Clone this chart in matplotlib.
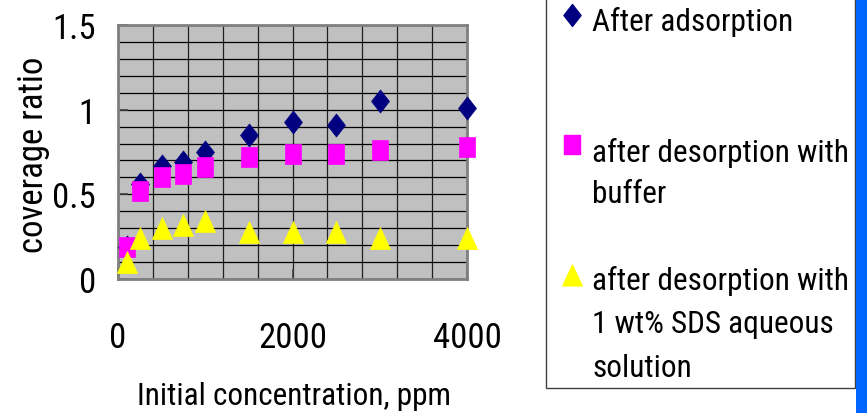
import matplotlib
matplotlib.use("Agg")
import matplotlib.pyplot as plt
from matplotlib.path import Path
from matplotlib.lines import Line2D
from matplotlib.patches import Rectangle
from matplotlib.ticker import MultipleLocator
from matplotlib import font_manager as fm

installed = {f.name for f in fm.fontManager.ttflist}
narrow = [n for n in ['Roboto Condensed', 'Archivo Narrow', 'PT Sans Narrow',
                      'Liberation Sans Narrow'] if n in installed]
plt.rcParams['font.family'] = narrow[:1] + ['Liberation Sans', 'DejaVu Sans']

# Initial concentration (ppm) and coverage ratios
conc = [100, 250, 500, 750, 1000, 1500, 2000, 2500, 3000, 4000]
after_adsorption = [0.19, 0.56, 0.67, 0.69, 0.75, 0.85, 0.93, 0.91, 1.05, 1.01]
after_buffer = [0.19, 0.52, 0.60, 0.62, 0.66, 0.72, 0.74, 0.74, 0.76, 0.78]
after_sds = [0.10, 0.24, 0.30, 0.32, 0.34, 0.28, 0.28, 0.28, 0.24, 0.24]

labels = ["After adsorption",
          "after desorption with\nbuffer",
          "after desorption with\n1 wt% SDS aqueous\nsolution"]
x_ticks = [0, 2000, 4000]
y_ticks = [0, 0.5, 1, 1.5]
y_ticklabels = ["0", "0.5", "1", "1.5"]

# Slightly tall marker shapes
diamond = Path([(0, 1), (0.78, 0), (0, -1), (-0.78, 0), (0, 1)],
               [Path.MOVETO, Path.LINETO, Path.LINETO, Path.LINETO, Path.CLOSEPOLY])
square = Path([(-0.8, -1), (0.8, -1), (0.8, 1), (-0.8, 1), (-0.8, -1)],
              [Path.MOVETO, Path.LINETO, Path.LINETO, Path.LINETO, Path.CLOSEPOLY])
triangle = Path([(0, 1), (0.92, -1), (-0.92, -1), (0, 1)],
                [Path.MOVETO, Path.LINETO, Path.LINETO, Path.CLOSEPOLY])

styles = [(diamond, 16.6, "#000080"),
          (square, 14.4, "#FF00FF"),
          (triangle, 15.8, "#FFFF00")]
series = [after_adsorption, after_buffer, after_sds]

W, H = 867, 414
fig = plt.figure(figsize=(W / 100, H / 100), dpi=100)
fig.patch.set_facecolor("white")

ax = fig.add_axes([118 / W, (H - 280) / H, 349 / W, 254 / H])
ax.set_facecolor("#C0C0C0")
ax.set_xlim(0, 4000)
ax.set_ylim(0, 1.5)

ax.xaxis.set_minor_locator(MultipleLocator(400))
ax.yaxis.set_minor_locator(MultipleLocator(0.1))
ax.set_xticks(x_ticks)
ax.set_xticklabels([str(v) for v in x_ticks])
ax.set_yticks(y_ticks)
ax.set_yticklabels(y_ticklabels)

ax.grid(which="both", axis="y", color="black", linewidth=0.9)
ax.grid(which="both", axis="x", color="#202020", linewidth=0.9)
ax.set_axisbelow(True)

ax.tick_params(which="major", direction="in", length=7, width=1.2, color="#404040",
               labelsize=25)
ax.tick_params(which="minor", length=0)
ax.tick_params(axis="y", pad=16)
ax.tick_params(axis="x", pad=30)
for sp in ax.spines.values():
    sp.set_color("#808080")
    sp.set_linewidth(2)

for vals, (mk, ms, col) in zip(series, styles):
    ax.plot(conc, vals, linestyle="none", marker=mk, markersize=ms,
            markerfacecolor=col, markeredgecolor=col, markeredgewidth=0.5,
            clip_on=False, zorder=3)

fig.text(34 / W, 1 - 155 / H, "coverage ratio",
         rotation=90, ha="center", va="center", fontsize=25)
fig.text(294 / W, 1 - 405 / H, "Initial concentration, ppm", ha="center",
         va="baseline", fontsize=22.5)

# Legend box and the blue strip along the right edge
fig.add_artist(Rectangle((546 / W, 1 - 389 / H), (855 - 546) / W, 400 / H,
                         transform=fig.transFigure, facecolor="white",
                         edgecolor="#404040", linewidth=1))
fig.add_artist(Rectangle((856 / W, 0), (W - 856) / W, 1,
                         transform=fig.transFigure, facecolor="#0066FF",
                         edgecolor="none"))

key_y = [16, 145, 276]
baselines = [[31], [162, 203], [290, 333, 377]]
for (mk, ms, col), ky, bl, lab in zip(styles, key_y, baselines, labels):
    fig.add_artist(Line2D([572 / W], [1 - ky / H], transform=fig.transFigure,
                          linestyle="none", marker=mk, markersize=ms * 0.95,
                          markerfacecolor=col, markeredgecolor=col))
    for y, line in zip(bl, lab.split("\n")):
        fig.text(592 / W, 1 - y / H, line, ha="left", va="baseline", fontsize=22.5)

fig.savefig("out.png", dpi=100)
